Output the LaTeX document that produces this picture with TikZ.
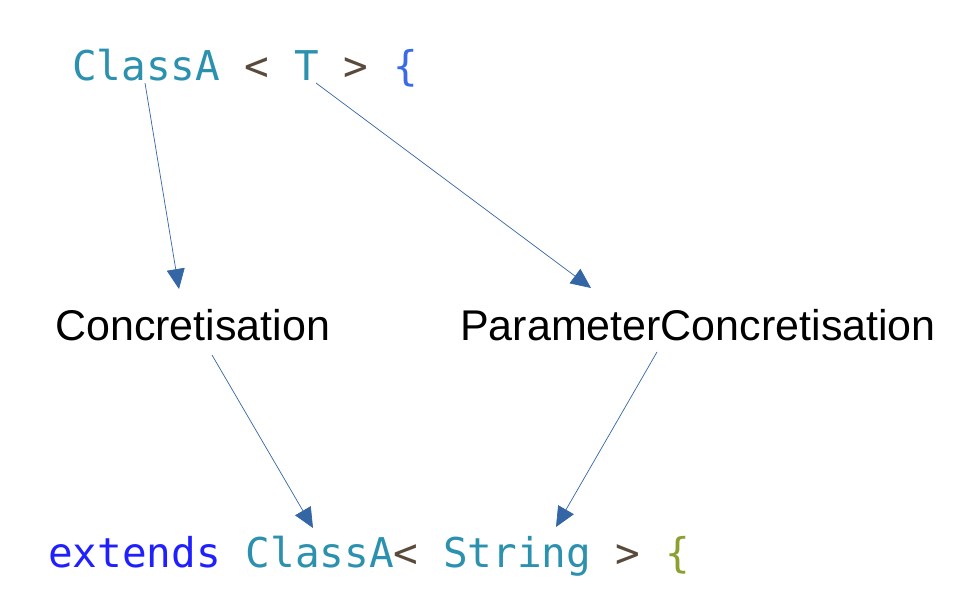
\documentclass[tikz,border=0pt]{standalone}
\usepackage{fontspec}
\setmainfont{Liberation Sans}
\newfontfamily\codefont{DejaVu Sans Mono}
\usetikzlibrary{arrows.meta}
\definecolor{typecol}{HTML}{2B91AF}
\definecolor{opcol}{HTML}{5A4A3C}
\definecolor{kwcol}{HTML}{2020FF}
\definecolor{bracecol}{HTML}{3A6AE8}
\definecolor{bracecolb}{HTML}{8AA030}
\definecolor{arrowcol}{HTML}{3465A4}
\tikzset{
    code/.style={anchor=base west,inner sep=0pt,font=\codefont\fontsize{41}{41}\selectfont},
    label/.style={anchor=base west,inner sep=0pt,font=\fontsize{43}{43}\selectfont},
    link/.style={draw=arrowcol,line width=0.7pt,-{Triangle[length=20pt,width=18pt]},arrowcol}
}
\begin{document}
\begin{tikzpicture}[x=1pt,y=-1pt]
    \useasboundingbox (0,0) rectangle (972,597);
    \node[code] (top) at (72,80) {\textcolor{typecol}{ClassA} \textcolor{opcol}{<} \textcolor{typecol}{T} \textcolor{opcol}{>} \textcolor{bracecol}{\{}};
    \node[label] (conc) at (55,340) {Concretisation};
    \node[label] (pconc) at (460,340) {ParameterConcretisation};
    \node[code] (bottom) at (48,567) {\textcolor{kwcol}{extends} \textcolor{typecol}{ClassA}\textcolor{opcol}{<} \textcolor{typecol}{String} \textcolor{opcol}{>} \textcolor{bracecolb}{\{}};
    % ends of the arrows
    \coordinate (classa) at (145,83);
    \coordinate (param) at (316,83);
    \coordinate (concin) at (179,289);
    \coordinate (pconcin) at (591,288);
    \coordinate (concout) at (212,355);
    \coordinate (pconcout) at (657,352);
    \coordinate (classb) at (313,528);
    \coordinate (string) at (556,527);
    \draw[link] (classa) -- (concin);
    \draw[link] (param) -- (pconcin);
    \draw[link] (concout) -- (classb);
    \draw[link] (pconcout) -- (string);
\end{tikzpicture}
\end{document}
